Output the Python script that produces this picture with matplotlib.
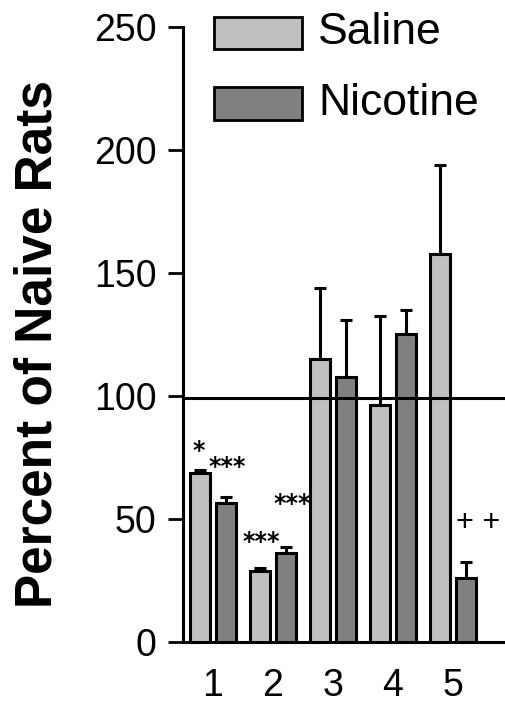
import matplotlib
matplotlib.use("Agg")
import matplotlib.pyplot as plt
from matplotlib.patches import Rectangle
import numpy as np

# Data
groups = ["1", "2", "3", "4", "5"]
saline = [68.7, 28.9, 115.0, 96.3, 157.7]
saline_err = [1.3, 1.1, 29.0, 36.2, 36.2]
nicotine = [56.5, 36.2, 107.7, 125.2, 26.0]
nicotine_err = [2.5, 2.4, 23.3, 9.8, 6.5]
yticks = [0, 50, 100, 150, 200, 250]
baseline = 99

# Significance marks: (text, group position, y value)
marks = [
    ("*", 0.767, 77.5),
    ("***", 1.233, 71.0),
    ("***", 1.80, 40.5),
    ("***", 2.325, 56.3),
    ("+ +", 5.417, 48.4),
]

tick_font = "Liberation Sans"
fig = plt.figure(figsize=(5.06, 7.07), dpi=100)
ax = fig.add_axes([183 / 506, 1 - 642 / 707, 1 - 183 / 506, (642 - 27) / 707])

x = np.arange(1, len(groups) + 1)
w = 0.34
off = 0.22
lw_edge = 2.2

ax.bar(x - off, saline, width=w, color="#C0C0C0", edgecolor="black",
       linewidth=lw_edge, zorder=3)
ax.bar(x + off, nicotine, width=w, color="#808080", edgecolor="black",
       linewidth=lw_edge, zorder=3)
ax.errorbar(x - off, saline, yerr=[np.zeros(len(saline)), saline_err],
            fmt="none", ecolor="black", elinewidth=2.2, capsize=4,
            capthick=2.2, zorder=2)
ax.errorbar(x + off, nicotine, yerr=[np.zeros(len(nicotine)), nicotine_err],
            fmt="none", ecolor="black", elinewidth=2.2, capsize=4,
            capthick=2.2, zorder=2)

ax.axhline(baseline, color="black", linewidth=2.2, zorder=4)

for txt, xp, yp in marks:
    if "*" in txt:
        ax.text(xp, yp, txt, ha="center", va="center", fontsize=17,
                fontweight="bold", family="DejaVu Sans", zorder=5)
    else:
        ax.text(xp, yp, txt, ha="center", va="center", fontsize=22,
                family=tick_font, zorder=5)

ax.set_xlim(0.5, 5.883)
ax.set_ylim(0, 250)
ax.set_yticks(yticks)
ax.set_yticklabels([str(v) for v in yticks], family=tick_font, fontsize=27)
ax.set_xticks(x)
ax.set_xticklabels(groups, family=tick_font, fontsize=27)
ax.tick_params(axis="y", length=11, width=2, pad=8)
ax.tick_params(axis="x", length=0, pad=19)

for s in ["top", "right"]:
    ax.spines[s].set_visible(False)
ax.spines["left"].set_linewidth(2.2)
ax.spines["bottom"].set_linewidth(2.2)
ax.spines["left"].set_zorder(6)

fig.text(38 / 506, 1 - 344 / 707, "Percent of Naive Rats", rotation=90,
         ha="center", va="center", fontsize=37, fontweight="bold",
         family=tick_font)

# Legend drawn in figure pixels
W, H = 506, 707
for (y0, y1), col, lab in [((17, 49), "#C0C0C0", "Saline"),
                           ((87, 120), "#808080", "Nicotine")]:
    fig.add_artist(Rectangle((214 / W, 1 - y1 / H), 88 / W, (y1 - y0) / H,
                             transform=fig.transFigure, facecolor=col,
                             edgecolor="black", linewidth=2.0))
    fig.text(318 / W, 1 - (y0 + y1) / 2 / H, lab, ha="left", va="center",
             fontsize=32, family=tick_font)

fig.savefig("out.png", dpi=100)
